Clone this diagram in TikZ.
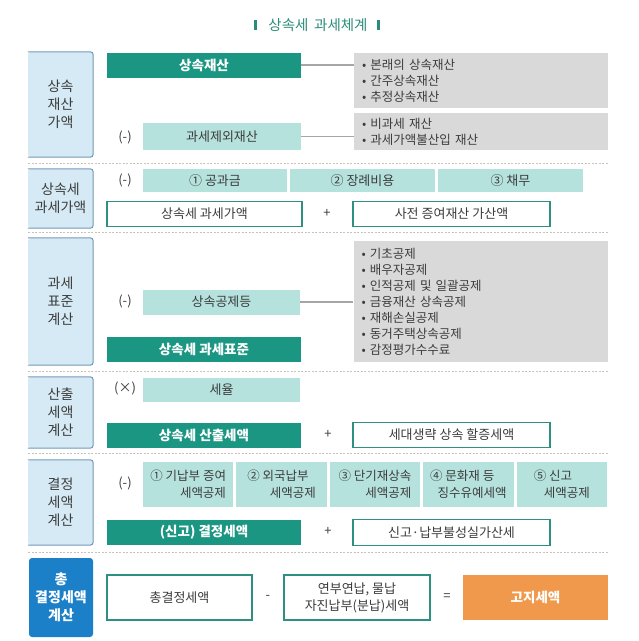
\documentclass[tikz,border=0pt]{standalone}
\usepackage{fontspec}
\setmainfont{Noto Sans CJK KR}
\definecolor{deepteal}{HTML}{1A9682}
\definecolor{paleteal}{HTML}{B5E2DD}
\definecolor{boxgray}{HTML}{D9D9D9}
\definecolor{labfill}{HTML}{D5EAF5}
\definecolor{labline}{HTML}{7098B8}
\definecolor{rimteal}{HTML}{2E9080}
\definecolor{deepblue}{HTML}{1C80C8}
\definecolor{tangerine}{HTML}{F0994C}
\definecolor{linkgray}{HTML}{A6A6A6}
\definecolor{sepgray}{HTML}{C9C2BA}
\definecolor{titleteal}{HTML}{2B8C7B}
\definecolor{txtgray}{HTML}{3C3C3C}
\begin{document}
\begin{tikzpicture}[x=1pt,y=-1pt,
        every node/.style={text=txtgray,inner sep=0pt},
        secbox/.style={fill=labfill,rounded corners=3pt,minimum width=65pt,align=center,font=\fontsize{14}{18}\selectfont},
        secrim/.style={draw=labline,line width=1pt,rounded corners=3pt},
        darkbox/.style={fill=deepteal,text=white,minimum width=194pt,minimum height=25pt,font=\fontsize{13.5}{16}\selectfont\bfseries},
        lightbox/.style={fill=paleteal,minimum height=24pt,font=\fontsize{13}{17}\selectfont},
        whitebox/.style={draw=rimteal,line width=1.2pt,fill=white,minimum width=195pt,minimum height=25pt,align=center,font=\fontsize{13}{17}\selectfont},
        graybox/.style={fill=boxgray,text width=238pt,inner xsep=8pt,align=left,font=\fontsize{12.5}{16}\selectfont},
        sign/.style={font=\fontsize{13}{15}\selectfont},
        titlebar/.style={fill=titleteal,minimum width=3pt,minimum height=10pt},
        link/.style={draw=linkgray,line width=1.2pt},
        sep/.style={draw=sepgray,dash pattern=on 2pt off 1.5pt,line width=0.8pt}]
            \useasboundingbox (0,0) rectangle (639,641);

            \node[text=titleteal,font=\fontsize{14.5}{16}\selectfont] (0) at (318,25) {상속세\hspace{0.4em}과세체계};
            \node[titlebar] (0a) at (255,25) {};
            \node[titlebar] (0b) at (378,25) {};

            \node[secbox,minimum height=105pt] (1) at (60.5,104.5) {상속\\재산\\가액};
            \draw[secrim] (1.north west) -- (1.north east) -- (1.south east) -- (1.south west);
            \node[darkbox] (1a) at (204,65) {상속재산};
            \node[sign] (1b) at (125,137) {(-)};
            \node[lightbox,minimum width=158pt,minimum height=27pt] (1c) at (222,136.5) {과세제외재산};
            \node[graybox,minimum height=55pt] (1d) at (481,80.5) {• 본래의 상속재산\\• 간주상속재산\\• 추정상속재산};
            \node[graybox,minimum height=37pt] (1e) at (481,131.5) {• 비과세 재산\\• 과세가액불산입 재산};
            \path [link] (1a.east) edge (1a.east -| 1d.west);
            \path [link] (1c.east) edge (1c.east -| 1e.west);

            \draw[sep] (28,163) -- (608,163);

            \node[secbox,minimum height=59pt] (2) at (60.5,198.5) {상속세\\과세가액};
            \draw[secrim] (2.north west) -- (2.north east) -- (2.south east) -- (2.south west);
            \node[sign] (2a) at (125,180) {(-)};
            \node[lightbox,minimum width=144pt,minimum height=23pt] (2b) at (215,180.5) {① 공과금};
            \node[lightbox,minimum width=145pt,minimum height=23pt] (2c) at (362.5,180.5) {② 장례비용};
            \node[lightbox,minimum width=145pt,minimum height=23pt] (2d) at (510.5,180.5) {③ 채무};
            \node[whitebox] (2e) at (204.5,214) {상속세 과세가액};
            \node[sign] (2f) at (327,213) {+};
            \node[whitebox,minimum width=197pt] (2g) at (451.5,214) {사전 증여재산 가산액};

            \draw[sep] (28,232) -- (608,232);

            \node[secbox,minimum height=127pt] (3) at (60.5,301.5) {과세\\표준\\계산};
            \draw[secrim] (3.north west) -- (3.north east) -- (3.south east) -- (3.south west);
            \node[sign] (3a) at (125,301) {(-)};
            \node[lightbox,minimum width=157pt,minimum height=25pt] (3b) at (221.5,302) {상속공제등};
            \node[darkbox] (3c) at (204,349.5) {상속세 과세표준};
            \node[graybox,minimum height=121pt] (3d) at (480.5,301.5) {• 기초공제\\• 배우자공제\\• 인적공제 및 일괄공제\\• 금융재산 상속공제\\• 재해손실공제\\• 동거주택상속공제\\• 감정평가수수료};
            \path [link] (3b.east) edge (3b.east -| 3d.west);

            \draw[sep] (28,371) -- (608,371);

            \node[secbox,minimum height=71pt] (4) at (60.5,412.5) {산출\\세액\\계산};
            \draw[secrim] (4.north west) -- (4.north east) -- (4.south east) -- (4.south west);
            \node[sign] (4a) at (125,388) {(×)};
            \node[lightbox,minimum width=157pt] (4b) at (221.5,390) {세율};
            \node[darkbox] (4c) at (204,435.5) {상속세 산출세액};
            \node[sign] (4d) at (328,434) {+};
            \node[whitebox,minimum width=197pt] (4e) at (451.5,435) {세대생략 상속 할증세액};

            \draw[sep] (28,453) -- (608,453);

            \node[secbox,minimum height=85pt] (5) at (60.5,502.5) {결정\\세액\\계산};
            \draw[secrim] (5.north west) -- (5.north east) -- (5.south east) -- (5.south west);
            \node[sign] (5a) at (125,483) {(-)};
            \node[lightbox,minimum width=90.4pt,minimum height=45pt,align=right,font=\fontsize{12.5}{17}\selectfont] (5b) at (188.2,484.5) {① 기납부 증여\\세액공제};
            \node[lightbox,minimum width=90.4pt,minimum height=45pt,align=left,font=\fontsize{12.5}{17}\selectfont] (5c) at (281.6,484.5) {② 외국납부\\\hspace*{1.8em}세액공제};
            \node[lightbox,minimum width=90.4pt,minimum height=45pt,align=right,font=\fontsize{12.5}{17}\selectfont] (5d) at (375,484.5) {③ 단기재상속\\세액공제};
            \node[lightbox,minimum width=90.4pt,minimum height=45pt,align=left,font=\fontsize{12.5}{17}\selectfont] (5e) at (468.4,484.5) {④ 문화재 등\\\hspace*{0.6em}징수유예세액};
            \node[lightbox,minimum width=90.4pt,minimum height=45pt,align=left,font=\fontsize{12.5}{17}\selectfont] (5f) at (561.8,484.5) {⑤ 신고\\\hspace*{0.8em}세액공제};
            \node[darkbox] (5g) at (204,532.5) {(신고) 결정세액};
            \node[sign] (5h) at (328,531) {+};
            \node[whitebox,minimum width=197pt,minimum height=26pt] (5i) at (451.5,532.5) {신고·납부불성실가산세};

            \draw[sep] (28,552) -- (608,552);

            \node[secbox,fill=deepblue,text=white,minimum width=64pt,minimum height=79pt,font=\fontsize{14}{18}\selectfont\bfseries] (6) at (61,597.5) {총\\결정세액\\계산};
            \node[whitebox,minimum width=145pt,minimum height=45pt] (6a) at (179.5,597.5) {총결정세액};
            \node[sign] (6b) at (268,597) {-};
            \node[whitebox,minimum width=146pt,minimum height=45pt] (6c) at (357,597.5) {연부연납, 물납\\자진납부(분납)세액};
            \node[sign] (6d) at (447,597) {=};
            \node[darkbox,fill=tangerine,minimum width=145pt,minimum height=45pt] (6e) at (535.5,597.5) {고지세액};
\end{tikzpicture}
\end{document}
